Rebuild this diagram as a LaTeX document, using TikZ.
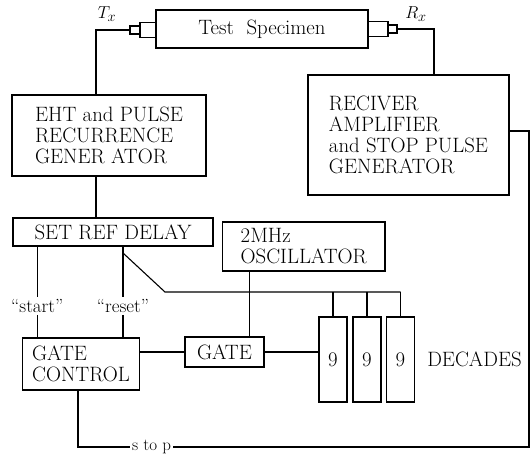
\documentclass[tikz,border=0pt]{standalone}
\usetikzlibrary{positioning}

\begin{document}
\begin{tikzpicture}[
    x=1pt, y=-1pt,
    font=\fontsize{20.8}{21}\selectfont,
    box/.style={draw, line width=1.1pt, align=left, inner sep=0pt},
    plug/.style={draw, line width=1.1pt, inner sep=0pt},
    lbl/.style={font=\fontsize{19}{20}\selectfont, inner sep=2pt},
    wire/.style={line width=1.1pt},
]
\useasboundingbox (0,0) rectangle (532,458);
% ---------- specimen and plugs ----------
\node[box, minimum width=212pt, minimum height=38pt] (spec) at (262,29) {Test\ \ Specimen};
\node[plug, minimum width=16pt, minimum height=15pt] (txb) at (148,30) {};
\node[plug, minimum width=10pt, minimum height=8pt]  (txs) at (135,30) {};
\node[plug, minimum width=20pt, minimum height=15pt] (rxb) at (378,29) {};
\node[plug, minimum width=9pt,  minimum height=8pt]  (rxs) at (392.5,29) {};
\node[lbl] (tx) at (107,14) {$T_x$};
\node[lbl] (rx) at (416,14) {$R_x$};
% ---------- pulse side ----------
\node[box, minimum width=194pt, minimum height=81pt] (eht) at (109,135.5)
    {EHT and PULSE\\RECURRENCE\\GENER ATOR};
\node[box, minimum width=201pt, minimum height=120pt] (rcv) at (408.5,135)
    {RECIVER\\AMPLIFIER\\and STOP PULSE\\GENERATOR};
\node[box, minimum width=200pt, minimum height=28pt] (srd) at (113,232) {SET REF DELAY};
\node[box, minimum width=162.5pt, minimum height=49pt] (osc) at (303.75,246.5)
    {2MHz\\OSCILLATOR};
% ---------- counting ----------
\node[box, minimum width=116.6pt, minimum height=52pt] (gctl) at (81,364) {GATE\\CONTROL};
\node[box, minimum width=79pt, minimum height=30pt] (gate) at (224.5,352) {GATE};
\foreach \i/\x in {1/333, 2/367, 3/400.5}
    \node[box, align=center, minimum width=28pt, minimum height=85pt] (dec\i) at (\x,359.5) {9};
\node[inner sep=0pt, right=12pt of dec3] (decs) {DECADES};
\node[lbl] (start) at (37.3,306) {``start''};
\node[lbl] (reset) at (123,306) {``reset''};
\node[lbl, font=\fontsize{17}{19}\selectfont] (stp) at (151.5,447) {s to p};
% ===================== WIRES =====================
\draw[wire] (txs.west) -| ([xshift=-13pt]eht.north);
\draw[wire] (rxs.east) -| ([xshift=25.5pt]rcv.north);
\draw[wire] ([xshift=-13pt]eht.south) -- ([xshift=-13pt]eht.south |- srd.north);
\draw[wire] (srd.south -| start) -- (start) -- (gctl.north -| start);
\draw[wire] (srd.south -| reset) -- (reset) -- (gctl.north -| reset);
% branch to the decades
\coordinate (tap) at (123,253);
\coordinate (bus) at (165,292);
\draw[wire] (tap) -- (bus) -- (bus -| dec3.north);
\foreach \i in {1,2,3}
    \draw[wire] (bus -| dec\i.north) -- (dec\i.north);
\draw[wire] ([xshift=-54pt]osc.south) -- ([xshift=-54pt]osc.south |- gate.north);
\draw[wire] (gctl.east |- gate) -- (gate);
\draw[wire] (gate.east) -- (gate.east -| dec1.west);
% stop pulse return
\coordinate (ret) at (529,447);
\draw[wire] ([xshift=-3pt]gctl.south) |- (stp.west);
\draw[wire] (stp.east) -- (ret) |- ([yshift=4pt]rcv.east);
\end{tikzpicture}
\end{document}
